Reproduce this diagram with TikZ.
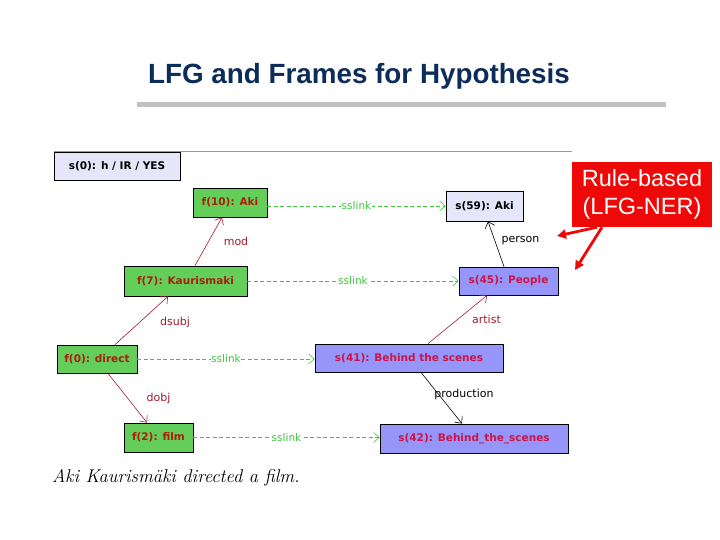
\documentclass[tikz,border=0pt]{standalone}
\usepackage{fontspec}
\setmainfont{Latin Modern Roman}
\newfontfamily\djv{DejaVu Sans}
\newfontfamily\lib{Liberation Sans}
\usetikzlibrary{arrows.meta}
\definecolor{titleblue}{RGB}{12,45,90}
\definecolor{barGrey}{RGB}{192,192,192}
\definecolor{fgreen}{RGB}{100,206,90}
\definecolor{ftext}{RGB}{170,30,10}
\definecolor{lav}{RGB}{230,230,250}
\definecolor{peri}{RGB}{150,150,250}
\definecolor{crim}{RGB}{205,20,70}
\definecolor{linkgreen}{RGB}{60,200,60}
\definecolor{relred}{RGB}{165,25,45}
\definecolor{rbred}{RGB}{238,8,8}
\tikzset{
  box/.style={draw=black, line width=0.8pt, inner sep=0pt, align=center,
    font=\djv\bfseries\fontsize{10.5}{12}\selectfont},
  fbox/.style={box, fill=fgreen, text=ftext},
  sbox/.style={box, fill=lav, text=black},
  pbox/.style={box, fill=peri, text=crim},
  sslinkedge/.style={draw=linkgreen, dashed, dash pattern=on 4pt off 2.5pt, line width=0.6pt,
    -{Straight Barb[length=5.5pt,width=10pt]}},
  linklabel/.style={text=linkgreen, fill=white, inner sep=0.6pt,
    font=\djv\fontsize{10.5}{12}\selectfont},
  reledge/.style={draw=relred, line width=0.6pt, -{Straight Barb[length=5.5pt,width=10pt]}},
  blackedge/.style={draw=black, line width=0.6pt, -{Straight Barb[length=5.5pt,width=10pt]}},
  rellabel/.style={text=relred, inner sep=0pt, font=\djv\fontsize{11}{12}\selectfont},
  blacklabel/.style={text=black, inner sep=0pt, font=\djv\fontsize{11}{12}\selectfont},
  redarrow/.style={draw=rbred, line width=2.8pt, -{Triangle[length=9pt,width=9pt]}}
}
\begin{document}
\begin{tikzpicture}[x=1pt,y=-1pt]
\useasboundingbox (0,0) rectangle (720,540);
% title
\node[anchor=base, text=titleblue, inner sep=0pt,
  font=\lib\bfseries\fontsize{27.8}{30}\selectfont] (title) at (359,84) {LFG and Frames for Hypothesis};
\fill[barGrey] (137,102) rectangle (666,107);
% panel top line
\draw[draw=gray!80, line width=0.8pt] (54,151) -- (572,151);
% boxes
\node[sbox, minimum width=126pt, minimum height=28pt] (s0) at (117,166) {s(0): h / IR / YES};
\node[fbox, minimum width=74pt, minimum height=29pt] (f10) at (230,202.5) {f(10): Aki};
\node[sbox, minimum width=77pt, minimum height=30pt] (s59) at (484.5,206) {s(59): Aki};
\node[fbox, minimum width=123pt, minimum height=30pt] (f7) at (185.5,281) {f(7): Kaurismaki};
\node[pbox, minimum width=99pt, minimum height=28pt] (s45) at (508.5,281) {s(45): People};
\node[fbox, minimum width=80pt, minimum height=28pt] (f0) at (97,359) {f(0): direct};
\node[pbox, minimum width=188pt, minimum height=28pt] (s41) at (409,358) {s(41): Behind the scenes};
\node[fbox, minimum width=69pt, minimum height=29pt] (f2) at (158.5,437.5) {f(2): film};
\node[pbox, minimum width=188pt, minimum height=29pt] (s42) at (474,438.5) {s(42): Behind\_the\_scenes};
% sslinks
\draw[sslinkedge] (f10.east |- s59.west) -- node[linklabel, midway]{sslink} (s59.west);
\draw[sslinkedge] (f7.east) -- node[linklabel, midway]{sslink} (s45.west);
\draw[sslinkedge] (f0.east) -- node[linklabel, midway]{sslink} (s41.west |- f0.east);
\draw[sslinkedge] (f2.east) -- node[linklabel, midway]{sslink} (s42.west |- f2.east);
% relations
\draw[reledge] ([xshift=9.5pt]f7.north) -- node[rellabel, midway, xshift=27.5pt]{mod} ([xshift=-8pt]f10.south);
\draw[reledge] ([xshift=18pt]f0.north) -- node[rellabel, midway, xshift=33.5pt, yshift=-1.5pt]{dsubj} ([xshift=-17.5pt]f7.south);
\draw[reledge] ([xshift=11pt]f0.south) -- node[rellabel, midway, xshift=31pt]{dobj} ([xshift=-11.5pt]f2.north);
\draw[blackedge] ([xshift=-4.5pt]s45.north) -- node[blacklabel, midway, xshift=24.5pt, yshift=3pt]{person} ([xshift=3.5pt]s59.south);
\draw[reledge] ([xshift=19pt]s41.north) -- node[rellabel, midway, xshift=29pt]{artist} ([xshift=-21.5pt]s45.south);
\draw[blackedge] ([xshift=12pt]s41.south) -- node[blacklabel, midway, xshift=22.5pt, yshift=4pt]{production} ([xshift=-12pt]s42.north);
% rule-based callout
\node[fill=rbred, text=white, minimum width=140pt, minimum height=65pt, inner sep=0pt, align=center,
  font=\lib\fontsize{23.5}{28.5}\selectfont] (rb) at (642,194.5) {Rule-based\\(LFG-NER)};
\coordinate (ra1) at (557,236);
\coordinate (ra2) at (575,270);
\draw[redarrow] ([xshift=-45pt]rb.south) -- (ra1);
\draw[redarrow] ([xshift=-40pt]rb.south) -- (ra2);
% caption
\node[anchor=base west, inner sep=0pt, font=\itshape\fontsize{18.5}{21}\selectfont] (cap) at (52,482) {Aki Kaurismäki directed a film.};
\end{tikzpicture}
\end{document}
